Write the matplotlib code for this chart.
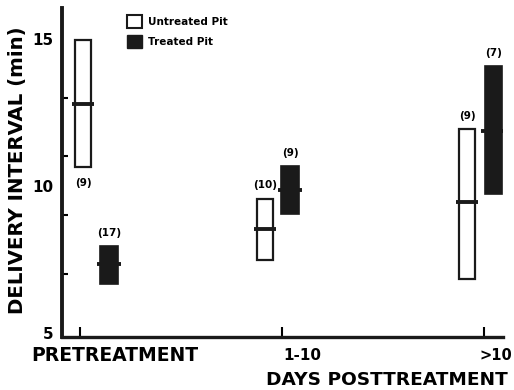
import numpy as np
import matplotlib
matplotlib.use("Agg")
import matplotlib.pyplot as plt
from matplotlib.patches import Patch

# delivery interval (min) per group: box bottom, median, box top
groups = ["PRETREATMENT", "1-10", ">10"]
untreated_low = [10.63, 7.49, 6.84]
untreated_med = [12.80, 8.52, 9.44]
untreated_high = [14.97, 9.57, 11.93]
untreated_n = ["(9)", "(10)", "(9)"]

treated_low = [6.67, 9.03, 9.74]
treated_med = [7.35, 9.85, 11.86]
treated_high = [7.94, 10.67, 14.08]
treated_n = ["(17)", "(9)", "(7)"]

yticks_major = [5, 10, 15]
yticks_minor = [5, 7, 9, 11, 13, 15]

plt.rcParams['font.family'] = ['DejaVu Sans']
plt.rcParams['font.weight'] = 'bold'

fig = plt.figure(figsize=(5.14, 3.9), dpi=100)
ax = fig.add_axes([62/514, 53/390, 441/514, 329/390])

cat = np.arange(len(groups))
pos_u = cat + np.array([0.015, -0.084, -0.084])
pos_t = cat + np.array([0.144, 0.040, 0.045])
w_u = 0.075
w_t = 0.085
ext = 0.018

lo_u = np.array(untreated_low)
hi_u = np.array(untreated_high)
lo_t = np.array(treated_low)
hi_t = np.array(treated_high)

ax.bar(pos_u, hi_u - lo_u, width=w_u, bottom=lo_u, color='white',
       edgecolor='#1a1a1a', linewidth=1.6, zorder=3)
ax.bar(pos_t, hi_t - lo_t, width=w_t, bottom=lo_t, color='#1a1a1a',
       edgecolor='#1a1a1a', linewidth=1.2, zorder=3)

# median bars stick out a bit past the box edges
ax.hlines(untreated_med, pos_u - w_u/2 - ext, pos_u + w_u/2 + ext,
          color='#1a1a1a', linewidth=2.8, zorder=4)
ax.hlines(treated_med, pos_t - w_t/2 - ext, pos_t + w_t/2 + ext,
          color='#1a1a1a', linewidth=2.8, zorder=4)

# sample sizes: first untreated label sits under its box
for i in range(len(groups)):
    if i == 0:
        ax.annotate(untreated_n[i], (pos_u[i], lo_u[i]), xytext=(0, -8),
                    textcoords='offset points', ha='center', va='top',
                    fontsize=7.5, fontweight='bold')
    else:
        ax.annotate(untreated_n[i], (pos_u[i], hi_u[i]), xytext=(0, 6),
                    textcoords='offset points', ha='center', va='bottom',
                    fontsize=7.5, fontweight='bold')
    ax.annotate(treated_n[i], (pos_t[i], hi_t[i]), xytext=(0, 6),
                textcoords='offset points', ha='center', va='bottom',
                fontsize=7.5, fontweight='bold')

ax.set_xlim(-0.089, 2.094)
ax.set_ylim(4.86, 16.05)

for s in ['top', 'right']:
    ax.spines[s].set_visible(False)
ax.spines['left'].set_linewidth(2.8)
ax.spines['bottom'].set_linewidth(2.4)
ax.spines['left'].set_color('#1a1a1a')
ax.spines['bottom'].set_color('#1a1a1a')

ax.set_yticks(yticks_major)
ax.set_yticklabels([str(v) for v in yticks_major], fontsize=11, fontweight='bold')
ax.set_yticks(yticks_minor, minor=True)
ax.tick_params(axis='y', which='major', length=0, pad=6)
ax.tick_params(axis='y', which='minor', direction='in', length=4, width=1.5)

ax.set_xticks(cat)
ax.set_xticklabels([])
ax.tick_params(axis='x', which='major', direction='in', length=7, width=1.5)

# category names hang off to the right of their ticks
label_dx = [25, 1, -3]
label_ha = ['center', 'left', 'left']
label_fs = [13.5, 11, 10.5]
for i, g in enumerate(groups):
    ax.annotate(g, (cat[i], 0), xycoords=('data', 'axes fraction'),
                xytext=(label_dx[i], -13), textcoords='offset points',
                ha=label_ha[i], va='center', fontsize=label_fs[i],
                fontweight='bold')

fig.text(266/514, 1 - 380/390, "DAYS POSTTREATMENT", ha='left', va='center',
         fontsize=13.3, fontweight='bold')
fig.text(18/514, 1 - 170/390, "DELIVERY INTERVAL (min)", rotation=90,
         ha='center', va='center', fontsize=14.2, fontweight='bold')

handles = [Patch(facecolor='white', edgecolor='#1a1a1a', linewidth=1.5),
           Patch(facecolor='#1a1a1a', edgecolor='#1a1a1a')]
fig.legend(handles, ["Untreated Pit", "Treated Pit"], loc='upper left',
           bbox_to_anchor=(127/514, 1 - 15/390), frameon=False,
           borderpad=0, borderaxespad=0, handlelength=1.45, handleheight=1.55,
           handletextpad=0.6, labelspacing=0.65,
           prop={'size': 7.5, 'weight': 'bold'})

fig.savefig("out.png", dpi=100)
